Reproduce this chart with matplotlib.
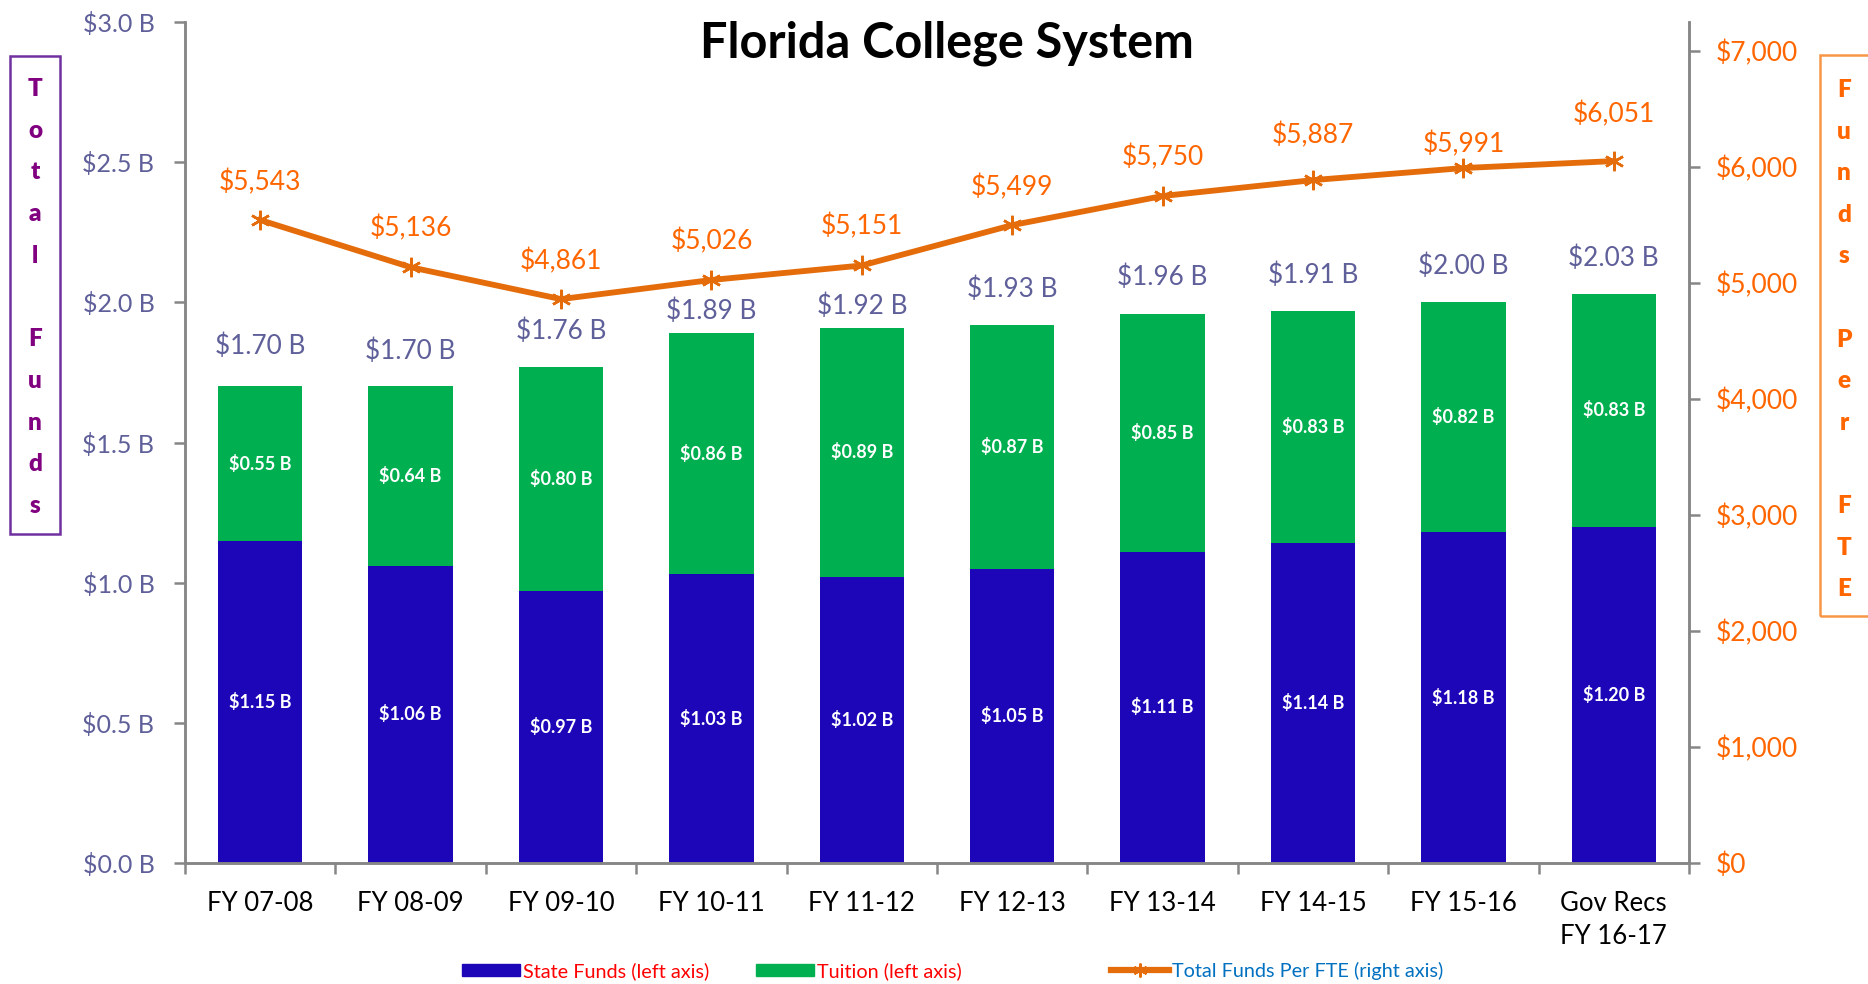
import matplotlib
matplotlib.use("Agg")
import matplotlib.pyplot as plt
import numpy as np
from matplotlib.patches import Rectangle, Patch
from matplotlib.lines import Line2D

plt.rcParams['font.family'] = ['Lato', 'DejaVu Sans']

categories = ["FY 07-08", "FY 08-09", "FY 09-10", "FY 10-11", "FY 11-12",
              "FY 12-13", "FY 13-14", "FY 14-15", "FY 15-16", "Gov Recs\nFY 16-17"]
state_funds = [1.15, 1.06, 0.97, 1.03, 1.02, 1.05, 1.11, 1.14, 1.18, 1.20]
tuition = [0.55, 0.64, 0.80, 0.86, 0.89, 0.87, 0.85, 0.83, 0.82, 0.83]
total_labels = [1.70, 1.70, 1.76, 1.89, 1.92, 1.93, 1.96, 1.91, 2.00, 2.03]
funds_per_fte = [5543, 5136, 4861, 5026, 5151, 5499, 5750, 5887, 5991, 6051]

left_ticks = [0.0, 0.5, 1.0, 1.5, 2.0, 2.5, 3.0]
right_ticks = [0, 1000, 2000, 3000, 4000, 5000, 6000, 7000]

# label offsets (points) – styling only, as hand-placed in the original
total_label_offsets = [29, 25.5, 25.8, 15.5, 15, 25.5, 26, 25.5, 26, 26]
fte_label_offsets = [27, 28, 27.5, 28, 28, 27.5, 28, 32.5, 17.5, 34]

BLUE = "#1C06B8"
GREEN = "#00B050"
ORANGE_LINE = "#E46C0A"
ORANGE_TXT = "#FF6600"
SLATE = "#5F5F9A"
GRAY = "#868686"

W, H = 1868, 984
fig = plt.figure(figsize=(W / 100, H / 100), dpi=100)
ax = fig.add_axes([185 / W, 1 - 863 / H, (1689 - 185) / W, (863 - 22) / H])
ax2 = ax.twinx()

x = np.arange(len(categories))
bw = 0.56
ax.bar(x, state_funds, bw, color=BLUE, zorder=2)
ax.bar(x, tuition, bw, bottom=state_funds, color=GREEN, zorder=2)

for i in range(len(x)):
    s, t = state_funds[i], tuition[i]
    ax.text(x[i], s / 2, f"${s:.2f} B", ha="center", va="center",
            color="white", fontsize=13, fontweight="bold")
    ax.text(x[i], s + t / 2, f"${t:.2f} B", ha="center", va="center",
            color="white", fontsize=13, fontweight="bold")
    ax.annotate(f"${total_labels[i]:.2f} B", (x[i], s + t),
                xytext=(0, total_label_offsets[i]),
                textcoords="offset points", ha="center", va="center",
                color=SLATE, fontsize=18.8)

ax.set_ylim(0, 3.0)
ax.set_xlim(-0.5, len(x) - 0.5)
ax.set_yticks(left_ticks)
ax.set_yticklabels([f"${v:.1f} B" for v in left_ticks], color=SLATE, fontsize=18)
ax.set_xticks(x)
ax.set_xticklabels(categories, fontsize=18.5, color="black", linespacing=1.4)
ax.set_xticks(np.arange(-0.5, len(x)), minor=True)
ax.tick_params(axis="x", which="major", length=0, pad=20)
ax.tick_params(axis="x", which="minor", length=8, width=1.8, color=GRAY)
ax.tick_params(axis="y", length=8, width=1.8, color=GRAY, pad=14)

ax2.plot(x, funds_per_fte, color=ORANGE_LINE, lw=4.2, marker=(6, 2, 0),
         markersize=14, markeredgewidth=1.8, markeredgecolor=ORANGE_LINE, zorder=5)
for i in range(len(x)):
    ax2.annotate(f"${funds_per_fte[i]:,}", (x[i], funds_per_fte[i]),
                 xytext=(0, fte_label_offsets[i]),
                 textcoords="offset points", ha="center", va="center",
                 color=ORANGE_TXT, fontsize=19)
ax2.set_ylim(0, 7250)
ax2.set_yticks(right_ticks)
ax2.set_yticklabels([f"${v:,}" for v in right_ticks], color=ORANGE_TXT, fontsize=19)
ax2.tick_params(axis="y", length=8, width=1.8, color=GRAY, pad=11)

for a in (ax, ax2):
    a.spines["top"].set_visible(False)
    for sp in ("left", "right", "bottom"):
        a.spines[sp].set_color(GRAY)
        a.spines[sp].set_linewidth(1.8)

fig.text(947 / W, 1 - 43 / H, "Florida College System", ha="center", va="center",
         fontsize=35, fontweight="bold", color="black")

# Left axis title box
fig.add_artist(Rectangle((10 / W, 1 - 534 / H), 50 / W, (534 - 56) / H,
                         transform=fig.transFigure, fill=False, edgecolor="#7030A0", lw=1.8))
left_letters = ["T", "o", "t", "a", "l", "", "F", "u", "n", "d", "s"]
for k, ch in enumerate(left_letters):
    if ch:
        fig.text(35 / W, 1 - (89 + k * 41.7) / H, ch, ha="center", va="center",
                 fontsize=17.5, fontweight="heavy", color="#800080")

# Right axis title box
fig.add_artist(Rectangle((1820 / W, 1 - 616 / H), 60 / W, (616 - 55) / H,
                         transform=fig.transFigure, fill=False, edgecolor="#F79646", lw=1.8))
right_letters = ["F", "u", "n", "d", "s", "", "P", "e", "r", "", "F", "T", "E"]
for k, ch in enumerate(right_letters):
    if ch:
        fig.text(1844 / W, 1 - (90 + k * 41.6) / H, ch, ha="center", va="center",
                 fontsize=17.5, fontweight="heavy", color=ORANGE_TXT)

# Legends
leg_specs = [
    (Patch(color=BLUE), "State Funds (left axis)", "#FF0000", 388),
    (Patch(color=GREEN), "Tuition (left axis)", "#FF0000", 635),
    (Line2D([], [], color=ORANGE_LINE, lw=4.5, marker=(6, 2, 0), markersize=10,
            markeredgewidth=1.5), "Total Funds Per FTE (right axis)", "#0070C0", 933),
]
for handle, label, col, xs in leg_specs:
    lg = fig.legend([handle], [label], loc="center left",
                    bbox_to_anchor=((xs * 1.1913) / W, 1 - 971 / H),
                    frameon=False, fontsize=14.3, handlelength=2.9, handleheight=0.6,
                    handletextpad=0.15, borderpad=0, borderaxespad=0)
    for t in lg.get_texts():
        t.set_color(col)

fig.savefig("out.png", dpi=100)
